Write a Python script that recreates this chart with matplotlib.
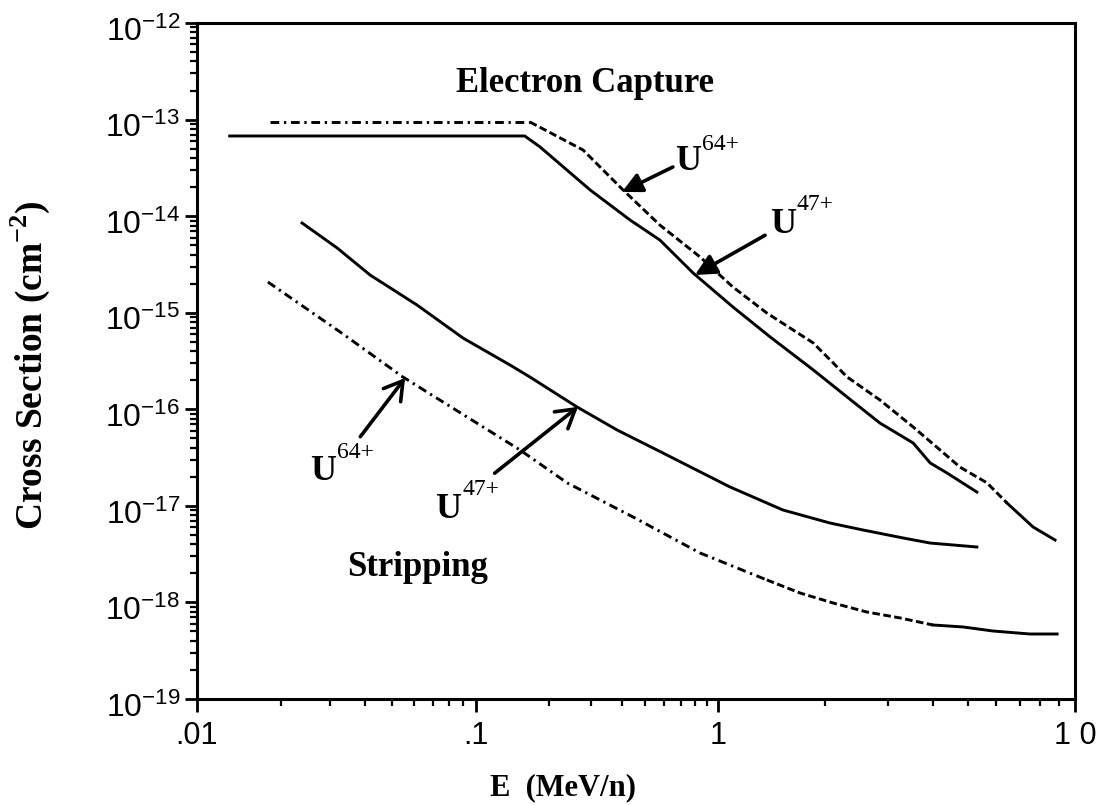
import numpy as np
import matplotlib
matplotlib.use("Agg")
import matplotlib.pyplot as plt
import matplotlib.transforms as mtrans
from matplotlib.ticker import FixedLocator, FixedFormatter, FuncFormatter, NullFormatter

# %% data (E in MeV/n, cross section in cm^2)
ec47_E = [0.0131, 0.159, 0.184, 0.296, 0.433, 0.575, 0.789, 1.10, 1.40, 1.85,
          2.30, 2.84, 3.52, 3.93, 4.38, 5.31]
ec47_s = [6.76e-14, 6.76e-14, 5.20e-14, 1.87e-14, 9.12e-15, 5.66e-15, 2.58e-15,
          1.15e-15, 5.61e-16, 2.55e-16, 1.34e-16, 7.21e-17, 4.48e-17, 2.78e-17,
          2.19e-17, 1.39e-17]

ec64_E = [0.0183, 0.167, 0.193, 0.277, 0.405, 0.575, 0.843, 1.10, 1.37, 1.85,
          2.30, 2.84, 3.52, 4.19, 4.76, 5.67, 6.45, 7.63, 8.79]
ec64_s = [9.44e-14, 9.44e-14, 7.80e-14, 4.84e-14, 1.87e-14, 8.09e-15, 3.78e-15,
          1.85e-15, 9.93e-16, 4.85e-16, 2.16e-16, 1.25e-16, 6.56e-17, 3.79e-17,
          2.52e-17, 1.73e-17, 1.07e-17, 6.04e-18, 4.43e-18]

st47_E = [0.0238, 0.0318, 0.0417, 0.0615, 0.0898, 0.138, 0.167, 0.261, 0.383,
          0.593, 1.08, 1.52, 2.06, 2.55, 3.30, 3.93, 5.31]
st47_s = [8.49e-15, 4.68e-15, 2.46e-15, 1.20e-15, 5.47e-16, 2.88e-16, 2.16e-16,
          1.06e-16, 6.10e-17, 3.52e-17, 1.57e-17, 9.06e-18, 6.64e-18, 5.62e-18,
          4.65e-18, 4.12e-18, 3.75e-18]

st64_E = [0.01795, 0.0326, 0.0547, 0.0929, 0.152, 0.238, 0.446, 0.843, 1.37,
          1.70, 2.10, 2.61, 3.24, 4.00, 4.86, 5.89, 7.48, 8.91]
st64_s = [2.08e-15, 6.31e-16, 2.16e-16, 8.32e-17, 3.79e-17, 1.73e-17, 7.66e-18,
          3.25e-18, 1.71e-18, 1.25e-18, 9.87e-19, 7.96e-19, 6.90e-19, 5.84e-19,
          5.57e-19, 5.06e-19, 4.71e-19, 4.71e-19]

x_ticks = [0.01, 0.1, 1, 10]
x_ticklabels = [".01", ".1", "1", "1 0"]
y_decades = list(range(-19, -11))

# %% fonts
plt.rcParams["font.family"] = "Liberation Sans"
plt.rcParams["mathtext.fontset"] = "custom"
plt.rcParams["mathtext.rm"] = "Liberation Sans"
plt.rcParams["mathtext.bf"] = "Liberation Serif:bold"
SERIF = "Liberation Serif"

# the printed x axis is not an even log scale: decades are unequal in width
LOGS = [-2, -1, 0, 1]
PIX = [0, 279, 521, 878]

def fwd(x):
    return np.interp(np.log10(np.clip(x, 1e-30, None)), LOGS, PIX)

def inv(p):
    return 10 ** np.interp(p, PIX, LOGS)

fig = plt.figure(figsize=(11.14, 8.05), dpi=100)
ax = fig.add_axes([197 / 1114, 1 - 699 / 805, 878 / 1114, 676 / 805])
ax.set_xscale("function", functions=(fwd, inv))
ax.set_yscale("log")
ax.set_xlim(0.01, 10)
ax.set_ylim(1e-19, 1e-12)

LW = 2.1
DASHDOT = (0, (3, 1.6, 0.8, 1.6))
DASHED = (0, (2.6, 1.2))

def segments(E, s, cuts, styles):
    E = np.asarray(E); s = np.asarray(s)
    for (lo, hi), ls in zip(cuts, styles):
        m = (E >= lo) & (E <= hi)
        ax.plot(E[m], s[m], color="black", lw=LW, linestyle=ls)

ax.plot(ec47_E, ec47_s, color="black", lw=LW)
segments(ec64_E, ec64_s, [(0, 0.167), (0.167, 6.45), (6.45, 20)],
         [DASHDOT, DASHED, "-"])
ax.plot(st47_E, st47_s, color="black", lw=LW)
segments(st64_E, st64_s, [(0, 1.37), (1.37, 4.0), (4.0, 20)],
         [DASHDOT, DASHED, "-"])

# %% axes styling
for sp in ax.spines.values():
    sp.set_linewidth(2.2)
ax.xaxis.set_major_locator(FixedLocator(x_ticks))
ax.xaxis.set_major_formatter(FixedFormatter(x_ticklabels))
ax.xaxis.set_minor_locator(FixedLocator([m * 10.0 ** k for k in (-2, -1, 0) for m in range(2, 10)]))
ax.xaxis.set_minor_formatter(NullFormatter())
ax.yaxis.set_major_locator(FixedLocator([10.0 ** k for k in y_decades]))
ax.yaxis.set_minor_locator(FixedLocator([m * 10.0 ** k for k in y_decades[:-1] for m in range(2, 10)]))
ax.yaxis.set_major_formatter(FuncFormatter(lambda v, _: r"$\mathregular{10^{%d}}$" % round(np.log10(v))))
ax.yaxis.set_minor_formatter(NullFormatter())
ax.tick_params(which="both", direction="out", top=False, right=False, colors="black")
ax.tick_params(which="major", length=9, width=2)
ax.tick_params(axis="x", which="major", pad=7, labelsize=22)
ax.tick_params(axis="y", which="major", pad=3, labelsize=23)
ax.tick_params(which="minor", length=5, width=1.6)

# y labels sit a little below their ticks in the original
shift = mtrans.ScaledTranslation(0, -4 / 72, fig.dpi_scale_trans)
for lab in ax.get_yticklabels():
    lab.set_transform(lab.get_transform() + shift)

fig.text(30 / 1114, 1 - 365 / 805, r"Cross Section (cm$^{\mathbf{-2}}$)", rotation=90,
         ha="center", va="center", fontsize=27, family=SERIF, weight="bold")
fig.text(563 / 1114, 1 - 788 / 805, "E  (MeV/n)", ha="center", va="center",
         fontsize=22, family=SERIF, weight="bold")

ax.text(0.442, 0.911, "Electron Capture", transform=ax.transAxes, ha="center", va="center",
        fontsize=25, family=SERIF, weight="bold")
ax.text(0.251, 0.195, "Stripping", transform=ax.transAxes, ha="center", va="center",
        fontsize=25, family=SERIF, weight="bold")

# ion labels: (U position, superscript position) in axes fraction
labels = [
    ("64+", (0.544, 0.783), (0.575, 0.812)),
    ("47+", (0.653, 0.689), (0.683, 0.723)),
    ("64+", (0.129, 0.324), (0.159, 0.357)),
    ("47+", (0.271, 0.268), (0.302, 0.302)),
]
for sup, upos, spos in labels:
    ax.text(*upos, "U", transform=ax.transAxes, ha="left", va="baseline",
            fontsize=26, family=SERIF, weight="bold")
    ax.text(*spos, sup, transform=ax.transAxes, ha="left", va="baseline",
            fontsize=17, family=SERIF)

# arrows: head on the curve (data), tail near the label (axes fraction)
arrows = [
    ((0.401, 1.78e-14), (0.542, 0.787), "-|>", 30),
    ((0.803, 2.46e-15), (0.647, 0.686), "-|>", 32),
    ((0.0557, 2.11e-16), (0.186, 0.388), "->,head_length=0.5,head_width=0.3", 26),
    ((0.264, 1.06e-16), (0.339, 0.334), "->,head_length=0.5,head_width=0.3", 26),
]
for head, tail, style, ms in arrows:
    ax.annotate("", xy=head, xycoords="data", xytext=tail, textcoords="axes fraction",
                arrowprops=dict(arrowstyle=style, lw=2.6, color="black",
                                mutation_scale=ms, shrinkA=0, shrinkB=0))

fig.savefig("out.png", dpi=100, facecolor="white")
